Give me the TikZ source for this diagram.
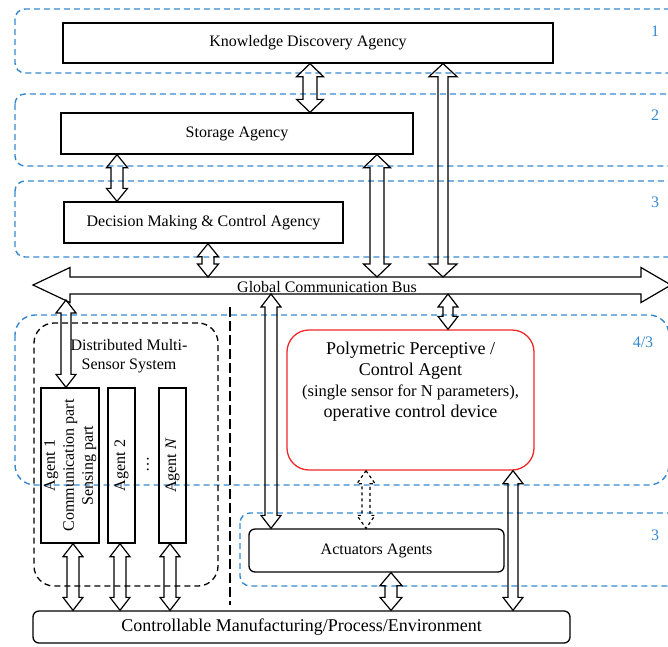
\documentclass[tikz,border=0pt]{standalone}
\usepackage{fontspec}
\setmainfont{Liberation Serif}
\usetikzlibrary{calc}
\definecolor{bl}{RGB}{52,136,206}
\definecolor{rd}{RGB}{240,40,40}
\tikzset{
  txt/.style={font=\fontsize{16}{19}\selectfont, inner sep=0pt},
  bigtxt/.style={font=\fontsize{18}{21}\selectfont, inner sep=0pt},
  box/.style={draw, line width=1.3pt, inner sep=0pt, font=\fontsize{16}{19}\selectfont},
  zone/.style={draw=bl, line width=1.4pt, dash pattern=on 6pt off 4pt},
  zlabel/.style={text=bl, font=\fontsize{16}{19}\selectfont, inner sep=0pt},
  blk/.style={draw, line width=1.2pt, line join=miter},
}
\newcommand{\BA}[5][]{%
  \path[blk,#1] let \p1=#4, \p2=#5 in
   (\x1,\y1) -- (\x1+#3,\y1-13pt) -- (\x1+#2,\y1-13pt) -- (\x1+#2,\y2+13pt)
   -- (\x1+#3,\y2+13pt) -- (\x1,\y2) -- (\x1-#3,\y2+13pt) -- (\x1-#2,\y2+13pt)
   -- (\x1-#2,\y1-13pt) -- (\x1-#3,\y1-13pt) -- cycle;}
\begin{document}
\begin{tikzpicture}[x=1pt,y=-1pt]
\clip (0,0) rectangle (668,646);
% zones
\draw[zone, rounded corners=10pt] (15,9) rectangle (700,73);
\draw[zone, rounded corners=10pt] (15,94) rectangle (700,166);
\draw[zone, rounded corners=10pt] (15,181) rectangle (700,257);
\draw[zone, rounded corners=20pt] (15,315) rectangle (669,485);
\draw[zone, rounded corners=10pt] (240,513) rectangle (700,586);
\node[zlabel] (l1) at (655,31) {1};
\node[zlabel] (l2) at (655,115) {2};
\node[zlabel] (l3) at (655,202) {3};
\node[zlabel] (l4) at (643,342) {4/3};
\node[zlabel] (l5) at (655,535) {3};
% top boxes
\node[box, minimum width=490pt, minimum height=40pt] (kd) at (308,43) {Knowledge Discovery Agency};
\node[box, minimum width=352pt, minimum height=41pt] (sa) at (237,133.5) {Storage Agency};
\node[box, minimum width=279pt, minimum height=41pt] (dm) at (203.5,222.5) {Decision Making \& Control Agency};
% bus
\coordinate (busT) at (0,277);
\coordinate (busB) at (0,294);
\coordinate (busLa) at (66,300);
\path[blk] (33,285) -- (70,267.5) -- (70,277) -- (641,277) -- (641,267.5) -- (671,285)
  -- (641,302.5) -- (641,294) -- (70,294) -- (70,302.5) -- cycle;
\node[txt] (bus) at (327,287) {Global Communication Bus};
% distributed system
\node[draw, line width=1.3pt, dash pattern=on 6pt off 4pt, rounded corners=20pt,
  minimum width=184pt, minimum height=263pt, inner sep=0pt] (dms) at (126,454.5) {};
\node[txt, align=center] (dmst) at (129,356) {Distributed Multi-\\Sensor System};
\node[box, minimum width=58pt, minimum height=155pt] (a1) at (70,465.5)
  {\rotatebox{90}{\begin{tabular}{@{}c@{}}Agent 1\\Communication part\\Sensing part\end{tabular}}};
\node[box, minimum width=27pt, minimum height=155pt] (a2) at (121.5,465.5) {\rotatebox{90}{Agent 2}};
\node[box, minimum width=27pt, minimum height=155pt] (aN) at (172.5,465.5) {\rotatebox{90}{Agent \textit{N}}};
\node[txt] (dots) at (148,464) {\rotatebox{90}{\dots}};
% divider
\draw[line width=1.3pt, dash pattern=on 10pt off 4pt] (230,307) -- (230,605);
% polymetric agent
\node[draw=rd, line width=1.3pt, rounded corners=22pt, minimum width=247pt,
  minimum height=140pt, inner sep=0pt] (pp) at (410.5,400) {};
\node[bigtxt, align=center] (ppt) at (410.5,381.5)
  {Polymetric Perceptive /\\Control Agent\\{\fontsize{16.5}{21}\selectfont (single sensor for N parameters),}\\operative control device};
% actuators
\node[box, rounded corners=6pt, minimum width=255pt, minimum height=43pt] (act) at (376.5,550.5) {Actuators Agents};
% controllable
\node[box, rounded corners=6pt, minimum width=537pt, minimum height=32pt,
  font=\fontsize{18}{21}\selectfont] (cm) at (301.5,627) {Controllable Manufacturing/Process/Environment};
% arrows
\BA{7pt}{13.5pt}{(310,0 |- kd.south)}{(310,0 |- sa.north)}
\BA{6pt}{10.5pt}{(117,0 |- sa.south)}{(117,0 |- dm.north)}
\BA{7pt}{13.5pt}{(377,0 |- sa.south)}{(377,0 |- busT)}
\BA{5pt}{14pt}{(443,0 |- kd.south)}{(443,0 |- busT)}
\BA{6pt}{10.5pt}{(208,0 |- dm.south)}{(208,0 |- busT)}
\BA{5pt}{10pt}{(busLa)}{(66,0 |- a1.north)}
\BA{6pt}{10pt}{(271,0 |- busB)}{(271,0 |- act.north)}
\BA{5pt}{10pt}{(448,0 |- busB)}{(448,0 |- pp.north)}
\BA[dashed]{4pt}{9pt}{(366,0 |- pp.south)}{(366,0 |- act.north)}
\BA{5pt}{10pt}{(513,0 |- pp.south)}{(513,0 |- cm.north)}
\BA{6pt}{11pt}{(391,0 |- act.south)}{(391,0 |- cm.north)}
\BA{6pt}{10pt}{(73,0 |- a1.south)}{(73,0 |- cm.north)}
\BA{6pt}{10pt}{(120,0 |- a2.south)}{(120,0 |- cm.north)}
\BA{6pt}{10pt}{(170,0 |- aN.south)}{(170,0 |- cm.north)}
\end{tikzpicture}
\end{document}
